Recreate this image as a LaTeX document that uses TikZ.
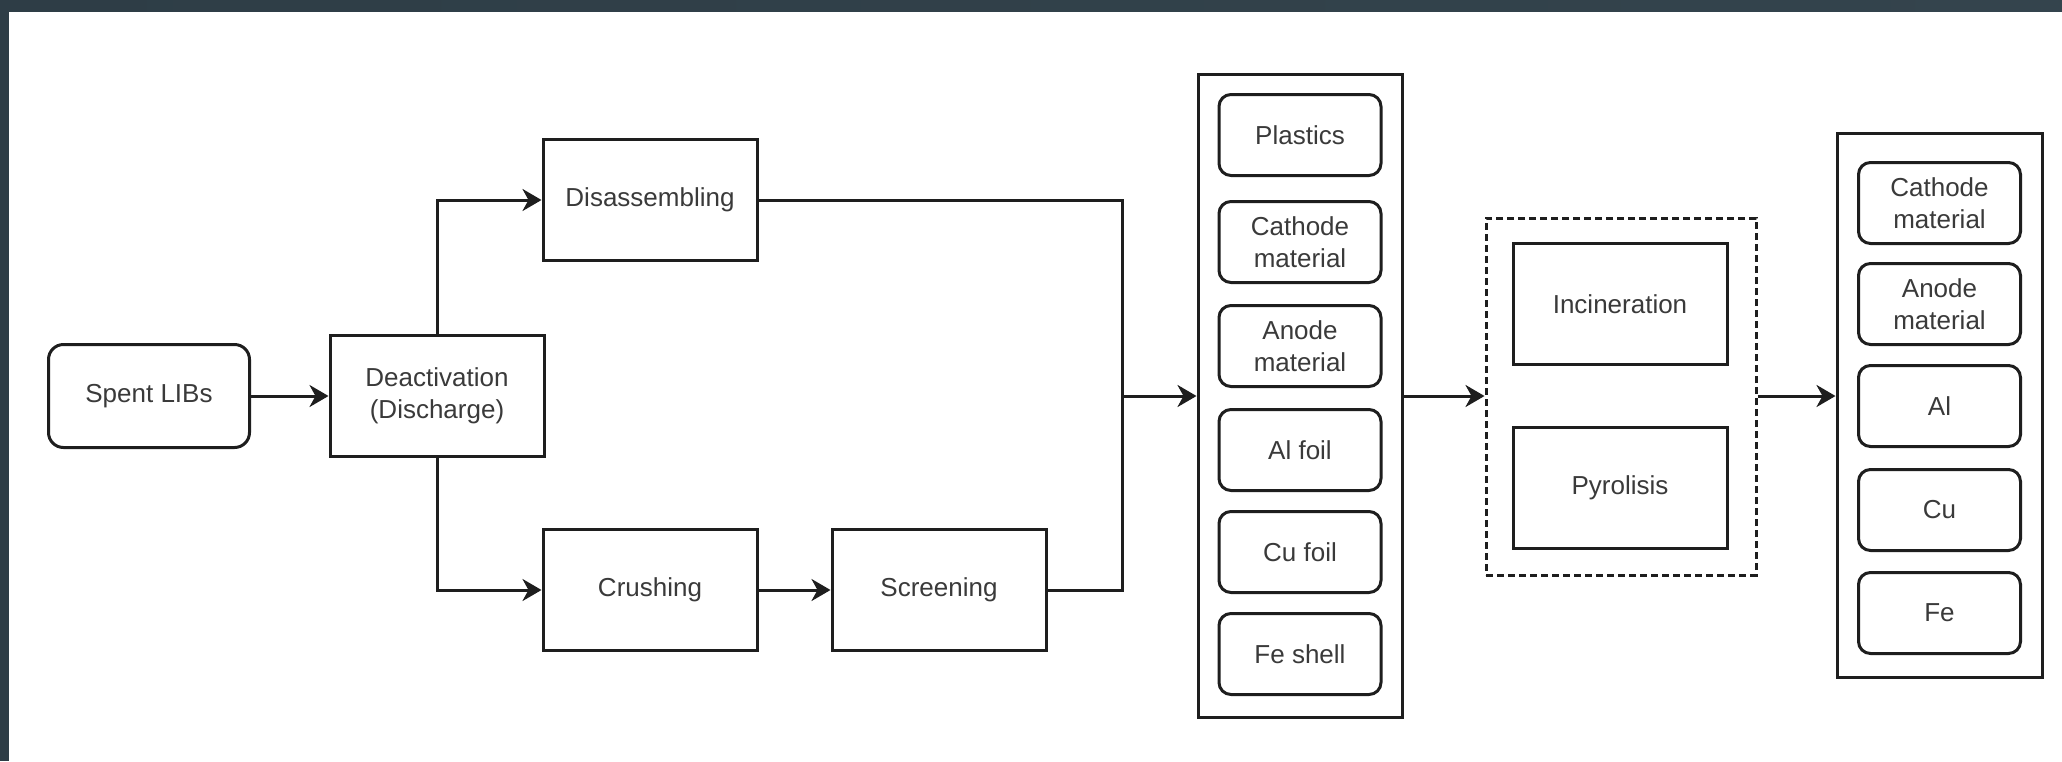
\documentclass[tikz,border=0pt]{standalone}
\usepackage{fontspec}
\setmainfont{Liberation Sans}
\usetikzlibrary{arrows.meta}
\definecolor{frameL}{HTML}{2E3D46}
\definecolor{frameM}{HTML}{4E5F6A}
\definecolor{frameR}{HTML}{34444D}
\definecolor{linec}{HTML}{1E1E1E}
\definecolor{textc}{HTML}{3A3A3A}
\tikzset{
  base/.style={draw=linec, line width=1.5pt, inner sep=0pt, align=center,
    text=textc, font=\fontsize{13}{16}\selectfont},
  proc/.style={base, minimum width=107pt, minimum height=60.5pt},
  startbox/.style={base, rounded corners=7.5pt, minimum width=100.5pt, minimum height=51.5pt},
  item/.style={base, rounded corners=6pt, minimum width=81pt, minimum height=40.5pt},
  conn/.style={draw=linec, line width=1.5pt},
  arr/.style={conn, -{Stealth[length=9.5pt, width=11pt, inset=3pt]}},
}
\begin{document}
\begin{tikzpicture}[x=0.5pt, y=-0.5pt]
\useasboundingbox (0,0) rectangle (2062,761);
\fill[white] (0,0) rectangle (2062,761);
\shade[left color=frameL, middle color=frameM, right color=frameR] (0,0) rectangle (2062,11);
\fill[frameL] (0,0) rectangle (9,761);

% left part
\node[startbox] (spent) at (149,396) {Spent LIBs};
\node[proc] (deact) at (437,396) {Deactivation\\(Discharge)};
\node[proc] (disas) at (650,200) {Disassembling};
\node[proc] (crush) at (650,590) {Crushing};
\node[proc] (screen) at (939,590) {Screening};
\coordinate (junc) at (1122,396);

% separated materials
\node[base, minimum width=102pt, minimum height=321.5pt] (box1) at (1300,396) {};
\node[item] (plastics) at (1300,135) {Plastics};
\node[item] (cath1) at (1300,242) {Cathode\\material};
\node[item] (anod1) at (1300,346) {Anode\\material};
\node[item] (alfoil) at (1300,450) {Al foil};
\node[item] (cufoil) at (1300,552) {Cu foil};
\node[item] (feshell) at (1300,654) {Fe shell};

% thermal treatment
\node[base, dash pattern=on 3.5pt off 2pt, minimum width=135pt, minimum height=178.5pt] (thermal) at (1621,396.5) {};
\node[proc] (incin) at (1620,304) {Incineration};
\node[proc] (pyro) at (1620,488) {Pyrolisis};

% products
\node[base, minimum width=102.5pt, minimum height=272pt] (box2) at (1939.5,405) {};
\node[item] (cath2) at (1939.5,203) {Cathode\\material};
\node[item] (anod2) at (1939.5,304) {Anode\\material};
\node[item] (al) at (1939.5,406) {Al};
\node[item] (cu) at (1939.5,510) {Cu};
\node[item] (fe) at (1939.5,613) {Fe};

% connectors
\draw[arr] (spent) -- (deact);
\draw[arr] (deact.north) |- (disas.west);
\draw[arr] (deact.south) |- (crush.west);
\draw[arr] (crush) -- (screen);
\draw[conn] (disas.east) -| (junc);
\draw[conn] (screen.east) -| (junc);
\draw[arr] (junc) -- (box1.west);
\draw[arr] (box1.east) -- (thermal.west |- box1.east);
\draw[arr] (thermal.east |- box1.east) -- (box2.west |- box1.east);
\end{tikzpicture}
\end{document}
